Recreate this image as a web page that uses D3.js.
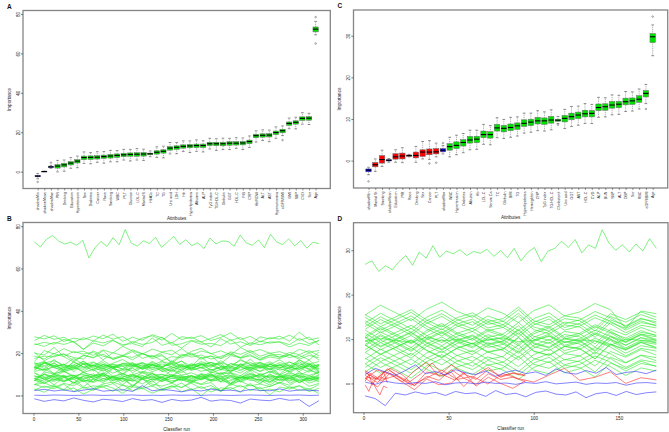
<!DOCTYPE html>
<html>
<head>
<meta charset="utf-8">
<script src="https://cdn.jsdelivr.net/npm/d3@7"></script>
<style>
  body { margin: 0; background: #fff; }
  svg { display: block; font-family: "Liberation Sans", Arial, sans-serif; }
</style>
</head>
<body>
<svg id="svg" width="669" height="432"></svg>
<script>
// ---- data: model 1 (panels A/B) ----
const attrA = ["shadowMin","shadowMean","shadowMax","PIR","Drinking","Education","Hypertension","Sex","Diabetes","Cancer",
  "Race","Smoking","WBC","PLT","Glucose","LDL-C","Marital S","HbA1c","TC","TG","Uric acid","LDH","Hb","Hyperlipidemia",
  "Albumin","ALP","TyG index","TG/HDL-C","Globulin","GGT","HDL-C","FIB","CRP","Hb/RDW","ALT","AST","Hyperuricemia",
  "eGFR/BMI","BMI","SBP","CVD","Scr","Age"];
// S = shadow, C = confirmed, R = rejected
const decisionA = "SSSCCCCCCCCCCCCCCCCCCCCCCCCCCCCCCCCCCCCCCCC";
const runsA = 318;
// importance history per attribute (sampled evenly over the runs)
const histA = [
  [-1.6,-2.8,-2.0,-2.6,-1.2,-2.3,-3.1,-1.8,-2.2,-2.9,-1.5,-2.4,-2.0,-3.3,-1.9,-2.6,-2.2,-0.9,-2.7,-2.1,-2.4,-3.6,-1.7,-2.2,-2.5,-1.4,-2.3,-2.0,-5.2,-2.5],
  [0.1,0.0,0.2,0.1,0.0,0.1,0.2,0.0,0.1,0.1,0.2,0.0,0.1,0.0,0.2,0.1,0.1,0.0,0.2,0.1,0.0,0.1,0.2,0.1,0.0,0.1,0.1,0.2,0.0,0.1],
  [2.3,2.9,2.1,2.6,1.8,2.5,3.2,2.0,2.4,2.7,1.9,4.6,2.2,2.8,2.4,1.7,2.6,2.1,3.0,2.3,2.5,1.9,2.8,2.4,2.2,3.1,2.0,2.6,2.4,2.2],
  [3.1,1.5,4.3,2.4,3.6,0.6,2.9,4.0,1.9,5.1,2.2,3.4,1.1,2.8,4.6,1.8,3.2,-0.1,3.5,2.5,3.8,1.4,5.7,2.1,3.0,1.7,4.2,2.3,3.3,0.9],
  [2.6,4.4,3.1,5.3,1.9,3.8,2.4,5.0,3.5,1.0,4.1,3.2,4.6,2.2,3.7,5.9,2.7,4.2,1.6,3.6,2.9,4.8,2.3,3.9,0.2,4.0,3.0,4.5,1.8,3.4],
  [5.2,3.8,4.8,2.7,6.4,3.4,4.5,4.1,5.6,2.3,4.9,3.6,7.1,3.0,4.4,3.9,5.8,3.3,4.7,1.7,5.4,4.0,5.0,3.1,4.3,6.0,3.5,4.6,2.8,5.1],
  [5.0,6.0,3.9,5.7,4.6,7.1,3.2,5.5,6.3,4.7,4.0,7.9,5.3,4.4,5.8,3.6,6.5,5.1,6.1,2.0,5.6,6.8,4.5,5.4,4.2,6.2,4.8,7.3,4.3,5.7],
  [5.2,7.6,6.6,8.5,6.0,7.3,6.4,10.0,5.7,8.1,6.8,7.8,4.2,7.5,6.1,8.9,7.1,5.4,7.7,6.5,9.4,6.2,8.3,7.2,4.9,7.9,6.7,8.6,5.8,7.4],
  [7.2,5.6,8.3,6.8,7.8,4.0,7.7,6.1,8.6,6.7,7.4,5.4,8.0,6.5,9.7,7.5,6.0,8.4,7.0,7.9,4.8,7.3,8.8,6.2,7.6,5.7,9.1,6.9,8.2,6.4],
  [8.1,5.8,7.6,6.5,9.0,7.3,6.1,8.0,7.0,8.4,4.7,7.7,6.3,8.8,6.9,7.4,6.0,10.1,6.6,7.9,5.3,8.6,7.1,7.5,6.4,9.4,5.7,7.8,6.8,8.2],
  [8.0,6.6,9.6,7.1,8.5,6.5,7.7,6.8,9.1,7.9,4.3,8.4,7.4,8.8,5.9,8.1,6.7,7.6,10.2,6.3,7.0,8.6,7.8,5.5,9.4,6.9,8.0,6.2,8.3,7.3],
  [6.9,8.3,5.0,8.6,7.6,8.9,6.5,10.8,7.2,8.1,6.8,9.3,7.4,8.4,6.0,8.2,6.6,9.4,7.5,8.7,5.7,8.0,9.1,7.0,10.2,7.3,8.5,6.2,7.9,9.7],
  [10.7,7.5,9.0,6.4,8.4,7.7,9.6,7.1,8.7,5.0,8.8,7.8,9.3,6.6,8.2,7.4,9.2,7.9,10.1,6.7,8.6,7.2,9.8,8.3,5.8,8.9,8.0,9.4,7.0,8.5],
  [8.1,10.0,7.5,8.9,5.9,9.6,8.2,9.2,7.3,8.5,10.2,7.7,8.8,7.0,9.3,9.4,8.0,9.0,6.9,10.6,7.6,8.7,8.3,9.8,6.5,9.1,7.8,11.3,7.2,8.6],
  [7.0,9.9,8.5,9.5,5.4,9.0,10.2,7.9,8.8,7.6,9.6,8.2,10.7,7.7,9.1,8.4,9.4,7.3,9.1,8.0,10.5,6.6,8.9,9.7,8.1,7.4,11.3,8.7,7.8,9.2],
  [10.6,8.8,7.1,9.4,8.2,11.1,7.9,10.0,8.9,6.6,9.6,8.4,10.3,7.5,9.1,6.9,9.3,8.3,10.2,7.7,9.0,8.1,11.7,7.4,9.8,8.5,9.5,5.9,9.2,7.8],
  [9.2,7.7,10.1,8.7,9.6,6.5,9.0,10.5,7.9,9.3,7.4,10.8,8.6,9.9,8.1,8.9,7.3,10.0,8.5,9.5,5.7,9.4,7.8,10.3,8.4,9.1,7.1,9.7,8.2,11.4],
  [9.2,8.4,9.8,8.9,9.4,8.0,9.1,9.6,8.6,10.2,8.8,9.3,8.2,9.0,9.9,8.6,9.2,7.6,9.4,8.9,9.5,8.4,10.5,8.7,9.1,8.5,9.7,8.8,9.3,8.1],
  [7.2,10.2,8.8,11.3,9.4,9.9,8.5,12.6,9.1,10.4,7.8,11.1,9.6,10.0,8.9,11.9,8.2,10.3,9.3,10.7,10.6,8.3,10.1,9.0,11.5,9.8,8.6,10.5,9.5,10.9],
  [7.0,11.1,10.1,11.5,8.6,10.8,9.4,10.3,12.9,9.0,9.7,11.3,10.5,8.2,12.1,9.6,10.7,8.9,11.0,10.0,10.7,9.3,12.3,9.8,11.2,9.2,10.4,9.5,11.8,10.6],
  [11.3,12.5,10.2,11.9,13.7,10.9,12.3,9.0,12.6,11.6,12.9,10.5,14.8,11.2,12.1,10.8,13.3,11.4,12.4,10.0,12.2,10.6,13.4,11.5,12.7,9.7,12.0,13.1,11.0,14.2],
  [13.0,12.1,13.5,11.1,12.6,14.8,11.6,13.1,10.5,12.5,11.8,13.7,11.2,12.8,9.1,12.9,11.9,13.4,10.7,12.3,11.5,13.3,12.0,14.2,10.8,12.7,11.3,13.9,12.4,9.9],
  [13.4,12.1,15.6,11.5,12.9,12.4,14.3,11.8,13.2,10.2,13.9,12.5,13.5,11.6,12.8,14.5,12.0,13.1,11.3,13.6,13.7,12.3,13.3,11.2,14.9,11.9,13.0,12.6,14.1,10.8],
  [11.7,15.6,13.0,12.1,13.5,11.3,14.2,12.8,13.8,9.7,13.3,14.5,12.2,13.1,11.9,13.9,12.5,15.0,12.0,13.4,12.7,13.7,11.6,13.4,12.3,14.8,10.9,13.2,14.0,12.4],
  [12.9,13.9,10.3,13.6,12.2,15.0,13.2,11.5,13.8,12.6,15.5,12.3,14.4,13.3,11.0,14.0,12.8,14.7,11.9,13.5,11.3,13.7,12.7,14.6,12.1,13.4,12.5,16.1,11.8,14.2],
  [13.4,11.4,14.0,12.5,15.7,13.5,12.0,14.4,13.0,13.9,10.8,13.3,14.8,12.2,13.6,11.7,15.1,12.9,14.2,12.4,13.2,11.6,14.3,12.8,13.8,10.0,13.7,12.1,14.6,12.7],
  [12.1,15.4,13.9,14.3,13.2,16.2,12.5,14.6,13.6,15.0,14.9,12.6,14.4,13.3,15.8,14.1,12.9,14.8,13.8,15.2,11.5,14.5,13.1,15.6,13.7,14.2,12.8,16.9,13.4,14.7],
  [13.5,15.1,14.3,12.0,15.9,13.4,14.5,12.7,14.8,13.8,14.5,13.1,16.1,13.6,15.0,13.0,14.2,13.3,15.6,14.4,10.8,14.9,13.9,15.3,12.4,14.6,13.2,14.1,16.7,12.8],
  [15.1,12.7,17.0,13.4,14.3,13.0,15.5,13.6,14.6,12.2,14.4,12.8,15.6,13.7,14.9,11.9,14.2,15.3,13.2,16.4,13.5,14.7,12.4,14.1,15.9,13.1,14.5,11.2,14.8,13.8],
  [13.9,15.8,13.3,14.9,11.2,15.0,14.0,15.5,12.8,14.4,13.6,15.4,14.1,16.3,12.9,14.8,13.4,16.0,14.5,12.0,15.1,14.2,15.6,13.2,14.7,16.9,13.7,15.2,12.6,14.6],
  [15.5,14.1,15.1,13.2,14.4,16.1,13.6,14.7,12.9,15.2,15.3,13.9,14.9,12.8,16.5,13.5,14.6,14.2,15.7,12.4,15.0,13.7,17.2,13.1,14.5,14.0,15.9,13.4,14.8,11.8],
  [14.8,16.0,13.7,14.6,13.4,15.4,14.0,16.5,13.5,14.9,14.2,15.2,13.1,14.9,13.8,16.3,12.4,14.7,15.5,13.9,13.2,17.1,14.5,13.6,15.0,12.8,15.7,14.3,15.3,11.2],
  [13.0,15.3,16.4,14.3,17.5,14.6,15.8,13.5,15.2,17.0,14.2,15.6,12.3,15.9,14.9,16.2,13.8,18.1,14.5,15.4,14.1,16.6,14.7,15.7,13.3,15.5,13.9,16.7,14.8,16.0],
  [18.6,17.2,19.8,18.3,15.8,18.9,18.0,19.4,17.0,18.5,20.7,17.5,19.0,16.4,18.4,17.7,19.6,17.1,18.7,15.0,18.8,17.8,19.3,16.6,18.2,17.4,19.2,17.9,20.1,16.7],
  [17.5,18.6,18.2,19.7,16.4,19.0,17.7,21.2,17.1,18.5,18.0,19.9,17.4,18.8,15.8,19.5,18.1,19.1,17.2,18.4,20.1,17.6,18.7,16.9,19.2,19.3,17.9,18.9,16.8,20.5],
  [20.3,16.4,18.7,19.5,17.9,17.2,21.1,18.5,17.6,19.0,16.8,19.7,18.3,19.3,15.2,18.8,20.0,17.7,18.6,17.4,19.4,18.0,20.5,17.5,18.9,18.2,19.2,17.1,18.9,17.8],
  [20.0,19.1,22.7,18.4,20.8,19.5,20.5,16.9,20.2,18.8,21.6,19.8,18.1,20.4,19.2,22.1,18.9,21.0,19.9,17.6,20.6,19.4,21.3,18.5,20.1,17.9,20.3,19.3,21.2,18.7],
  [16.0,21.2,19.6,22.1,20.2,20.9,18.9,21.5,20.0,23.2,21.0,19.5,21.9,20.5,21.4,18.3,20.8,22.3,19.7,21.1,19.2,22.6,20.4,21.7,19.9,20.7,19.1,21.8,20.3,21.3],
  [24.4,23.2,25.1,24.1,25.5,21.8,24.8,23.4,25.9,24.0,24.5,23.1,27.2,23.7,25.0,22.4,25.7,24.2,24.6,23.5,26.5,22.8,24.9,23.9,25.3,25.2,22.9,24.7,23.6,26.1],
  [23.9,25.1,24.2,26.5,25.3,21.7,25.8,24.8,26.2,23.3,25.5,24.1,25.0,27.6,23.7,24.4,26.0,25.2,22.9,26.8,24.3,25.4,23.6,25.7,24.7,25.4,24.0,27.0,24.5,25.9],
  [25.9,28.4,26.5,27.5,25.1,27.3,25.7,28.5,26.6,27.8,24.8,27.1,28.2,26.1,29.3,26.4,27.6,25.3,27.0,28.8,26.0,27.4,24.1,27.7,26.7,28.0,25.6,29.9,26.3,27.2],
  [27.7,26.7,28.2,25.5,27.1,26.3,28.1,26.8,29.0,25.6,27.5,26.1,28.7,27.2,24.7,27.8,26.9,28.3,25.9,27.4,29.6,26.4,27.9,25.3,27.3,26.6,28.5,26.0,27.6,23.9],
  [72.5,70.2,73.8,75.6,73.0,71.6,72.4,71.0,73.3,65.0,69.8,72.8,70.4,74.6,71.2,78.4,72.0,70.6,73.1,71.8,74.8,70.0,72.5,75.2,
   71.4,73.6,70.8,72.2,69.4,74.4,71.6,73.0,72.8,70.5,75.8,72.1,71.0,73.5,69.9,76.2,72.6,71.3,74.0,70.7,73.2,69.6,72.4,71.8]
];

// ---- data: model 2 (panels C/D) ----
const attrC = ["shadowMin","Marital St","Smoking","shadowMean","Education","PIR","Race","Drinking","Sex","Cancer","PLT",
  "shadowMax","WBC","Hypertension","Diabetes","Albumin","Hb","LDL-C","Serum Ca","TC","Globulin","BMI","TG","Hyperlipidemia",
  "Hemoglobin","CRP","TyG index","TG/HDL-C","Cholesterol","Uric acid","GGT","AST","HDL-C","CVD","ALP","BUN","SBP","ALT",
  "DBP","Scr","RBC","eGFR/BMI","Age"];
const decisionC = "SRRSRRRRRRRSCCCCCCCCCCCCCCCCCCCCCCCCCCCCCCC";
const runsC = 172;
// last run in which each attribute still has an importance (rejected ones stop early)
const lastRunC = [172,14,95,172,14,95,14,172,60,95,95,172,172,172,172,172,172,172,172,172,172,172,172,172,172,172,
  172,172,172,172,172,172,172,172,172,172,172,172,172,172,172,172,172];
const histC = [
  [-2.8,-3.4,-5.0,-2.2,-2.6,-1.9,-2.4,-2.0,-2.7,-1.8,-2.3,-2.1,-2.9,-1.6,-2.5,-2.2,-3.0,-2.0,-1.7,-2.4,-2.6,-1.9,-3.2,-2.3,-2.0,-2.7,-1.8,-2.5,-2.1,-1.9],
  [-0.3,-1.8,0.4,-1.2,-2.6,-0.6,-1.0],
  [1.2,-0.8,2.3,0.4,-1.4,1.0,-0.3,0.1,2.5,-0.6,1.4,0.0,-1.1,0.6],
  [0.3,-0.2,0.5,0.1,-0.1,0.2,0.0,0.4,-0.3,0.1,0.2,-0.1,0.3,0.0,0.1,-0.2,0.2,0.0,0.4,-0.1,0.1,0.3,-0.2,0.1,0.0,0.2,-0.4,0.1,0.2,0.0],
  [0.5,2.0,-0.4,1.3,0.9,2.6,0.2],
  [1.8,0.2,2.9,1.0,-0.5,1.6,0.7,3.1,1.2,-0.2,2.2,0.9,1.4,0.4],
  [1.0,1.4,1.2,0.9,1.5,1.1,1.3],
  [2.4,0.6,1.8,-0.4,1.2,3.0,0.9,1.6,-0.1,2.2,1.1,0.3,1.9,3.4,0.7,1.4,2.6,0.0,1.3,0.8],
  [2.6,1.0,3.3,1.6,0.4,2.2,4.6,1.9,0.8,2.4],
  [1.2,3.0,2.1,0.3,2.8,4.8,1.6,2.5,-0.7,2.0,3.6,1.4,2.3,1.7],
  [2.9,1.3,3.4,2.0,-0.5,2.6,1.8,4.2,2.2,0.9,3.1,1.6,2.4,1.9],
  [2.0,3.4,2.6,1.8,2.9,4.2,2.2,2.7,1.9,3.1,2.4,2.0,2.8,1.6,2.5,3.0,2.2,2.6,1.8,3.3,2.4,2.1,2.9,2.3,3.6,2.0,2.5,2.7,2.2,3.0],
  [2.6,4.8,3.1,1.2,3.9,5.6,3.4,2.0,4.2,3.0,0.9,3.6,4.9,2.4,3.3,5.2,3.8,1.8,3.5,2.8],
  [4.4,2.3,3.9,5.5,3.2,1.6,3.7,4.8,2.8,3.5,6.1,3.0,2.2,4.1,3.6,1.4,4.6,3.3,5.0,3.8],
  [3.6,5.8,4.1,2.3,4.9,6.5,4.4,3.1,5.2,4.0,1.9,4.6,5.9,3.4,4.3,6.2,4.8,2.8,4.5,3.9],
  [5.7,3.6,5.2,6.8,4.5,2.9,5.0,6.1,4.1,4.8,7.3,4.3,3.4,5.4,4.9,2.6,5.9,4.6,6.3,5.1],
  [4.4,6.6,4.9,3.1,5.7,7.3,5.2,3.9,6.0,4.8,2.7,5.4,6.7,4.2,5.1,7.0,5.6,3.6,5.3,4.7],
  [7.0,4.9,6.5,8.1,5.8,4.2,6.3,7.4,5.4,6.1,8.7,5.6,4.7,6.7,6.2,3.9,7.2,5.9,7.6,6.4],
  [5.5,7.7,6.0,4.2,6.8,8.4,6.3,5.0,7.1,5.9,3.8,6.5,7.8,5.3,6.2,8.1,6.7,4.7,6.4,5.8],
  [8.6,6.5,8.1,9.7,7.4,5.8,7.9,9.0,7.0,7.7,10.3,7.2,6.3,8.3,7.8,5.5,8.8,7.5,9.2,8.0],
  [7.0,9.2,7.5,5.7,8.3,9.9,7.8,6.5,8.6,7.4,5.3,8.0,9.3,6.8,7.7,9.6,8.2,6.2,7.9,7.3],
  [8.7,6.6,8.2,9.8,7.5,5.9,8.0,9.1,7.1,7.8,10.4,7.3,6.4,8.4,7.9,5.6,8.9,7.6,9.3,8.1],
  [7.6,9.8,8.1,6.3,8.9,10.5,8.4,7.1,9.2,8.0,5.9,8.6,9.9,7.4,8.3,10.2,8.8,6.8,8.5,7.9],
  [9.7,7.6,9.2,10.8,8.5,6.9,9.0,10.1,8.1,8.8,11.4,8.3,7.4,9.4,8.9,6.6,9.9,8.6,10.3,9.1],
  [8.5,10.7,9.0,7.2,9.8,11.4,9.3,8.0,10.1,8.9,6.8,9.5,10.8,8.3,9.2,11.1,9.7,7.7,9.4,8.8],
  [10.3,8.2,9.8,11.4,9.1,7.5,9.6,10.7,8.7,9.4,12.0,8.9,8.0,10.0,9.5,7.2,10.5,9.2,10.9,9.7],
  [8.8,11.0,9.3,7.5,10.1,11.7,9.6,8.3,10.4,9.2,7.1,9.8,11.1,8.6,9.5,11.4,10.0,8.0,9.7,9.1],
  [10.5,8.4,10.0,11.6,9.3,7.7,9.8,10.9,8.9,9.6,12.2,9.1,8.2,10.2,9.7,7.4,10.7,9.4,11.1,9.9],
  [9.5,10.1,9.7,9.2,10.4,9.6,9.9,8.9,9.8,10.2,9.4,9.7,10.6,9.3,9.8,9.6,8.6,10.0,9.7,9.5],
  [9.4,11.6,9.9,8.1,10.7,12.3,10.2,8.9,11.0,9.8,7.7,10.4,11.7,9.2,10.1,12.0,10.6,8.6,10.3,9.7],
  [11.3,9.2,10.8,12.4,10.1,8.5,10.6,11.7,9.7,10.4,13.0,9.9,9.0,11.0,10.5,8.2,11.5,10.2,11.9,10.7],
  [10.2,12.4,10.7,8.9,11.5,13.1,11.0,9.7,11.8,10.6,8.5,11.2,12.5,10.0,10.9,12.8,11.4,9.4,11.1,10.5],
  [12.0,9.9,11.5,13.1,10.8,9.2,11.3,12.4,10.4,11.1,13.7,10.6,9.7,11.7,11.2,8.9,12.2,10.9,12.6,11.4],
  [10.6,12.8,11.1,9.3,11.9,13.5,11.4,10.1,12.2,11.0,8.9,11.6,12.9,10.4,11.3,13.2,11.8,9.8,11.5,10.9],
  [13.5,11.4,13.0,14.6,12.3,10.7,12.8,13.9,11.9,12.6,15.2,12.1,11.2,13.2,12.7,10.4,13.7,12.4,14.1,12.9],
  [12.2,14.4,12.7,10.9,13.5,15.1,13.0,11.7,13.8,12.6,10.5,13.2,14.5,12.0,12.9,14.8,13.4,11.4,13.1,12.5],
  [14.1,12.0,13.6,15.2,12.9,11.3,13.4,14.5,12.5,13.2,15.8,12.7,11.8,13.8,13.3,11.0,14.3,13.0,14.7,13.5],
  [12.8,15.0,13.3,11.5,14.1,15.7,13.6,12.3,14.4,13.2,11.1,13.8,15.1,12.6,13.5,15.4,14.0,12.0,13.7,13.1],
  [14.9,12.8,14.4,16.0,13.7,12.1,14.2,15.3,13.3,14.0,16.6,13.5,12.6,14.6,14.1,11.8,15.1,13.8,15.5,14.3],
  [13.6,15.8,14.1,12.3,14.9,16.5,14.4,13.1,15.2,14.0,11.9,14.6,15.9,13.4,14.3,16.2,14.8,12.8,14.5,13.9],
  [15.5,13.4,15.0,16.6,14.3,12.7,14.8,15.9,13.9,14.6,17.2,14.1,13.2,15.2,14.7,12.4,15.7,14.4,16.1,14.9],
  [15.4,17.6,15.9,14.1,16.7,18.3,16.2,14.9,17.0,15.8,13.7,16.4,17.7,15.2,16.1,18.0,16.6,12.4,16.3,15.7],
  [26.8,27.6,25.2,26.5,25.6,27.4,28.8,26.6,29.6,28.2,31.0,28.4,29.8,29.2,30.1,28.8,29.7,29.3,30.2,28.6,
   29.9,28.3,30.4,27.6,29.5,30.6,27.4,29.8,30.4,32.0,30.6,32.4,29.4,31.2,30.4,34.6,31.6,30.0,31.2,29.6,31.4,29.8,32.6,30.4]
];

const ticksAB = [0, 20, 40, 60, 80];
const ticksCD = [0, 10, 20, 30];
const runTicksB = [0, 50, 100, 150, 200, 250, 300];
const runTicksD = [0, 50, 100, 150];

const boxFill = { S: "#0000ff", C: "#00e000", R: "#ff0000" };
const lineCol = { S: "#3030ff", C: "#2ee82e", R: "#ff2a2a" };

const svg = d3.select("#svg");
svg.append("rect").attr("width", 669).attr("height", 432).attr("fill", "#fff");

// R style 4% axis extension
function pad4(ext) { const r = (ext[1] - ext[0]) * 0.04; return [ext[0] - r, ext[1] + r]; }

// Tukey hinges like R's fivenum
function fivenum(v) {
  const x = v.slice().sort(d3.ascending), n = x.length;
  const n4 = Math.floor((n + 3) / 2) / 2;
  return [1, n4, (n + 1) / 2, n + 1 - n4, n].map(k => 0.5 * (x[Math.floor(k) - 1] + x[Math.ceil(k) - 1]));
}
function boxStats(v) {
  const f = fivenum(v), iqr = f[3] - f[1], lo = f[1] - 1.5 * iqr, hi = f[3] + 1.5 * iqr;
  const inside = v.filter(d => d >= lo && d <= hi);
  return { q1: f[1], med: f[2], q3: f[3], wlo: d3.min(inside), whi: d3.max(inside), out: v.filter(d => d < lo || d > hi) };
}

function frameAndY(g, f, y, ticks, letter) {
  g.append("rect").attr("x", f.x0).attr("y", f.y0).attr("width", f.x1 - f.x0).attr("height", f.y1 - f.y0)
    .attr("fill", "none").attr("stroke", "#858585").attr("stroke-width", 1.3);
  const ax = g.append("g").attr("transform", "translate(" + f.x0 + ",0)")
    .call(d3.axisLeft(y).tickValues(ticks).tickSize(2.2).tickFormat(d3.format("d")));
  ax.select(".domain").remove();
  ax.selectAll("line").attr("stroke", "#333").attr("stroke-width", 0.6);
  ax.selectAll("text").attr("x", null).attr("dy", null)
    .attr("transform", "translate(-3.3,0) rotate(-90)").attr("text-anchor", "middle")
    .attr("font-size", 4.6).attr("font-family", "Liberation Sans, Arial, sans-serif").attr("fill", "#222");
  g.append("text").attr("transform", "translate(" + (f.x0 - 12.4) + "," + ((f.y0 + f.y1) / 2) + ") rotate(-90)")
    .attr("text-anchor", "middle").attr("font-size", 4.6).attr("fill", "#222").text("Importance");
  g.append("text").attr("x", f.x0 - 16).attr("y", f.y0 - 2).attr("font-size", 6.5).attr("font-weight", "bold")
    .attr("fill", "#111").text(letter);
}

function drawBoxPanel(f, names, hist, decision, yDom, ticks, letter) {
  const g = svg.append("g");
  const n = names.length;
  const x = d3.scaleLinear().domain(pad4([0.5, n + 0.5])).range([f.x0, f.x1]);
  const y = d3.scaleLinear().domain(yDom).range([f.y1, f.y0]);
  const hw = (x(1) - x(0)) * 0.4, sw = hw * 0.5;
  const stats = hist.map((v, i) => Object.assign({ i: i, cx: x(i + 1), col: boxFill[decision[i]] }, boxStats(v)));

  const b = g.selectAll(".bx").data(stats).enter().append("g").attr("class", "bx");
  b.append("line").attr("x1", d => d.cx).attr("x2", d => d.cx).attr("y1", d => y(d.q3)).attr("y2", d => y(d.whi))
    .attr("stroke", "#555").attr("stroke-width", 0.5).attr("stroke-dasharray", "1,0.8");
  b.append("line").attr("x1", d => d.cx).attr("x2", d => d.cx).attr("y1", d => y(d.q1)).attr("y2", d => y(d.wlo))
    .attr("stroke", "#555").attr("stroke-width", 0.5).attr("stroke-dasharray", "1,0.8");
  b.append("line").attr("x1", d => d.cx - sw).attr("x2", d => d.cx + sw).attr("y1", d => y(d.whi)).attr("y2", d => y(d.whi))
    .attr("stroke", "#444").attr("stroke-width", 0.6);
  b.append("line").attr("x1", d => d.cx - sw).attr("x2", d => d.cx + sw).attr("y1", d => y(d.wlo)).attr("y2", d => y(d.wlo))
    .attr("stroke", "#444").attr("stroke-width", 0.6);
  b.append("rect").attr("x", d => d.cx - hw).attr("width", 2 * hw)
    .attr("y", d => y(d.q3)).attr("height", d => Math.max(0.6, y(d.q1) - y(d.q3)))
    .attr("fill", d => d.col).attr("stroke", "#6a6a6a").attr("stroke-width", 0.5);
  b.append("line").attr("x1", d => d.cx - hw).attr("x2", d => d.cx + hw).attr("y1", d => y(d.med)).attr("y2", d => y(d.med))
    .attr("stroke", "#000").attr("stroke-width", 1.1);
  b.selectAll("circle").data(d => d.out.map(o => ({ cx: d.cx, v: o }))).enter().append("circle")
    .attr("cx", d => d.cx).attr("cy", d => y(d.v)).attr("r", 0.8)
    .attr("fill", "none").attr("stroke", "#444").attr("stroke-width", 0.45);

  frameAndY(g, f, y, ticks, letter);

  const xa = g.append("g").attr("transform", "translate(0," + f.y1 + ")")
    .call(d3.axisBottom(x).tickValues(d3.range(1, n + 1)).tickSize(2).tickFormat(d => names[d - 1]));
  xa.select(".domain").remove();
  xa.selectAll("line").attr("stroke", "#333").attr("stroke-width", 0.5);
  xa.selectAll("text").attr("y", null).attr("dy", null)
    .attr("transform", "translate(1.3,3.6) rotate(-90)").attr("text-anchor", "end")
    .attr("font-size", 3.6).attr("font-family", "Liberation Sans, Arial, sans-serif").attr("fill", "#222");
  g.append("text").attr("x", (f.x0 + f.x1) / 2).attr("y", f.y1 + 31).attr("text-anchor", "middle")
    .attr("font-size", 4.6).attr("fill", "#222").text("Attributes");
}

function drawLinePanel(f, hist, decision, lastRun, nRuns, yDom, ticks, runTicks, letter) {
  const g = svg.append("g");
  const x = d3.scaleLinear().domain(pad4([1, nRuns])).range([f.x0, f.x1]);
  const y = d3.scaleLinear().domain(yDom).range([f.y1, f.y0]);
  const series = hist.map((v, i) => {
    const last = lastRun ? lastRun[i] : nRuns;
    return { dec: decision[i], pts: v.map((val, k) => [1 + k * (last - 1) / (v.length - 1), val]) };
  });
  const order = { C: 0, R: 1, S: 2 };
  series.sort((a, b) => order[a.dec] - order[b.dec]);
  const line = d3.line().x(d => x(d[0])).y(d => y(d[1]));
  g.selectAll(".hl").data(series).enter().append("path").attr("class", "hl")
    .attr("d", d => line(d.pts)).attr("fill", "none")
    .attr("stroke", d => lineCol[d.dec]).attr("stroke-width", 0.6);

  frameAndY(g, f, y, ticks, letter);

  const xa = g.append("g").attr("transform", "translate(0," + f.y1 + ")")
    .call(d3.axisBottom(x).tickValues(runTicks).tickSize(2.2).tickPadding(2));
  xa.select(".domain").remove();
  xa.selectAll("line").attr("stroke", "#333").attr("stroke-width", 0.6);
  xa.selectAll("text").attr("font-size", 4.6).attr("font-family", "Liberation Sans, Arial, sans-serif").attr("fill", "#222");
  g.append("text").attr("x", (f.x0 + f.x1) / 2).attr("y", f.y1 + 17.5).attr("text-anchor", "middle")
    .attr("font-size", 4.6).attr("fill", "#222").text("Classifier run");
}

const yDomAB = pad4(d3.extent(histA.flat()));
const yDomCD = pad4(d3.extent(histC.flat()));

drawBoxPanel({ x0: 23, x1: 330.3, y0: 10.5, y1: 188.5 }, attrA, histA, decisionA, yDomAB, ticksAB, "A");
drawLinePanel({ x0: 23, x1: 330.3, y0: 222.5, y1: 413.5 }, histA, decisionA, null, runsA, yDomAB, ticksAB, runTicksB, "B");
drawBoxPanel({ x0: 353.5, x1: 667.7, y0: 10, y1: 188 }, attrC, histC, decisionC, yDomCD, ticksCD, "C");
drawLinePanel({ x0: 353.5, x1: 668, y0: 222.7, y1: 412.7 }, histC, decisionC, lastRunC, runsC, yDomCD, ticksCD, runTicksD, "D");
</script>
</body>
</html>
